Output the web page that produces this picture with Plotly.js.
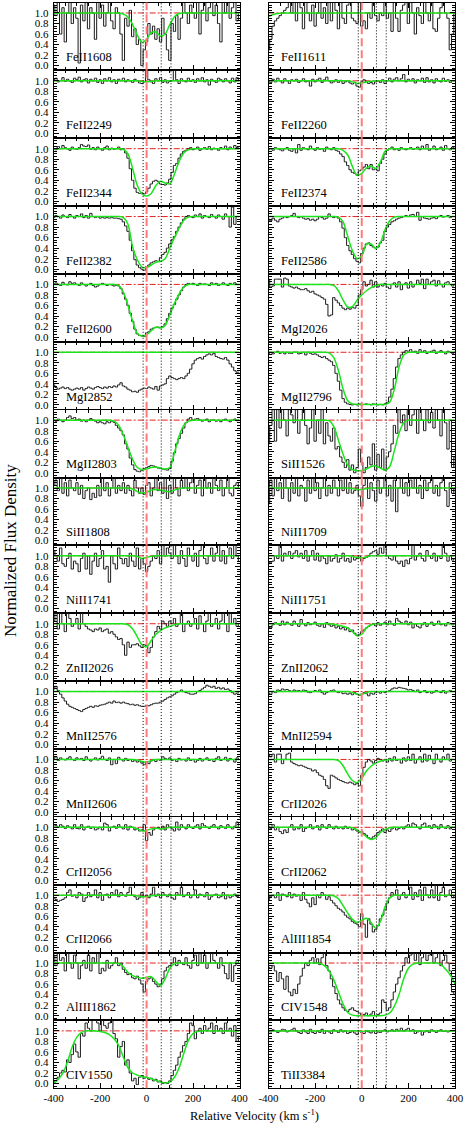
<!DOCTYPE html>
<html>
<head>
<meta charset="utf-8">
<script src="https://cdn.plot.ly/plotly-3.0.1.min.js"></script>
<style>html, body { margin: 0; padding: 0; background: #fff; }</style>
</head>
<body>
<div id="chart" style="width:474px;height:1128px"></div>
<script>
// velocity grid of the spectra (km/s) and of the fitted profiles
const velocity = [-400, -390, -380, -370, -360, -350, -340, -330, -320, -310,
  -300, -290, -280, -270, -260, -250, -240, -230, -220, -210,
  -200, -190, -180, -170, -160, -150, -140, -130, -120, -110,
  -100, -90, -80, -70, -60, -50, -40, -30, -20, -10,
  0, 10, 20, 30, 40, 50, 60, 70, 80, 90,
  100, 110, 120, 130, 140, 150, 160, 170, 180, 190,
  200, 210, 220, 230, 240, 250, 260, 270, 280, 290,
  300, 310, 320, 330, 340, 350, 360, 370, 380, 390,
  400];
const fitVelocity = [-400, -380, -360, -340, -320, -300, -280, -260, -240, -220,
  -200, -180, -160, -140, -120, -100, -80, -60, -40, -20,
  0, 20, 40, 60, 80, 100, 120, 140, 160, 180,
  200, 220, 240, 260, 280, 300, 320, 340, 360, 380, 400];
const componentVelocities = [-15, 63, 105];
const velocityTicks = [-400, -200, 0, 200, 400];
const velocityTickText = ['-400', '-200', '0', '200', '400'];

const leftLabels = ['FeII1608', 'FeII2249', 'FeII2344', 'FeII2382', 'FeII2600', 'MgI2852', 'MgII2803', 'SiII1808',
  'NiII1741', 'ZnII2026', 'MnII2576', 'MnII2606', 'CrII2056', 'CrII2066', 'AlIII1862', 'CIV1550'];
const rightLabels = ['FeII1611', 'FeII2260', 'FeII2374', 'FeII2586', 'MgI2026', 'MgII2796', 'SiII1526', 'NiII1709',
  'NiII1751', 'ZnII2062', 'MnII2594', 'CrII2026', 'CrII2062', 'AlIII1854', 'CIV1548', 'TiII3384'];

// ---- normalized flux, one value per velocity bin ----
const fluxFeII1608 = [1.15, 0.95, 1.2, 0.6, 1.1, 0.45, 1.0, 1.2, 0.8, 1.1,
  0.9, 0.05, 1.15, 0.85, 1.2, 0.7, 1.1, 1.0, 0.5, 1.2,
  0.9, 1.15, 0.75, 1.0, 1.2, 0.85, 0.7, 1.1, 1.0, 0.6,
  0.1, 0.9, 0.75, 1.05, 0.55, 0.7, 0.4, 0.5, 0.0, 0.3,
  0.45, 0.8, 0.6, 0.75, 0.5, 0.7, 0.45, 0.9, 0.6, 0.3,
  0.1, 0.8, 0.65, 0.95, 0.5, 0.9, 1.2, 1.0, 0.8, 1.15,
  1.0, 0.9, 1.2, 0.6, 1.05, 1.2, 0.85, 1.1, 1.2, 0.95,
  1.15, 0.8, 0.45, 1.2, 1.0, 1.2, 0.9, 1.1, 1.2, 0.85,
  1.0];
const fluxFeII1611 = [0.3, 0.5, 0.75, 0.85, 0.9, 0.95, 1.0, 1.05, 1.1, 1.2,
  1.0, 1.2, 0.85, 1.2, 1.1, 0.7, 1.2, 1.0, 0.85, 1.15,
  0.75, 1.0, 1.2, 0.9, 1.1, 0.8, 1.2, 0.85, 1.2, 1.05,
  0.7, 1.2, 0.9, 0.8, 1.15, 1.2, 0.9, 0.85, 0.8, 1.2,
  0.75, 0.85, 0.7, 1.0, 0.9, 1.2, 0.95, 0.85, 1.0, 0.95,
  1.2, 0.9, 1.0, 0.65, 1.2, 0.9, 0.65, 1.05, 1.15, 1.2,
  0.8, 1.2, 1.0, 0.6, 1.1, 0.95, 0.8, 1.2, 1.0, 0.85,
  1.2, 0.7, 0.65, 0.9, 1.1, 1.2, 1.0, 0.9, 0.3, 0.6,
  1.0];
const fluxFeII2249 = [1.02, 1.05, 0.98, 1.0, 1.06, 0.99, 1.03, 1.0, 0.97, 1.05,
  1.02, 1.07, 0.98, 1.02, 1.04, 0.96, 1.03, 1.0, 1.05, 0.97,
  1.02, 0.95, 1.04, 1.0, 1.06, 0.98, 1.02, 0.95, 1.03, 1.0,
  1.05, 0.98, 1.02, 1.0, 0.97, 1.03, 1.0, 0.96, 0.95, 0.98,
  1.2, 1.02, 0.98, 0.95, 1.04, 1.0, 1.06, 0.97, 1.02, 0.96,
  0.99, 1.0, 1.2, 1.02, 0.95, 1.04, 1.0, 0.98, 1.05, 0.99,
  1.02, 0.97, 1.04, 1.0, 1.06, 0.98, 1.02, 0.92, 1.03, 1.0,
  0.97, 1.05, 1.02, 0.98, 1.04, 1.0, 0.96, 1.05, 0.98, 1.06,
  1.0];
const fluxFeII2260 = [1.0, 0.97, 1.03, 0.98, 1.05, 1.0, 0.96, 1.04, 1.0, 0.95,
  1.02, 1.0, 1.03, 0.97, 1.0, 1.04, 0.98, 1.0, 0.9, 1.03,
  0.98, 1.02, 1.05, 0.97, 1.02, 1.07, 1.0, 0.96, 0.98, 1.02,
  0.97, 1.01, 0.95, 0.98, 1.0, 0.96, 0.94, 0.97, 0.9, 0.88,
  0.98, 1.02, 0.99, 0.95, 0.97, 0.94, 0.98, 1.0, 0.97, 1.02,
  0.95, 1.0, 1.05, 0.98, 1.03, 1.06, 1.0, 1.04, 1.12, 0.98,
  1.03, 1.0, 1.04, 0.96, 1.02, 1.0, 1.05, 0.97, 1.06, 0.98,
  1.02, 0.96, 1.04, 1.0, 0.98, 1.05, 0.99, 1.02, 0.97, 1.0,
  1.0];
const fluxFeII2344 = [1.0, 0.98, 1.04, 1.0, 1.06, 1.02, 1.0, 0.97, 1.03, 1.0,
  0.99, 1.02, 1.08, 1.05, 1.04, 1.07, 0.99, 1.02, 0.98, 1.03,
  1.0, 0.97, 1.02, 1.05, 0.98, 1.01, 0.99, 1.0, 1.03, 0.98,
  1.0, 0.92, 0.82, 0.62, 0.4, 0.25, 0.17, 0.15, 0.16, 0.14,
  0.18, 0.25, 0.33, 0.38, 0.4, 0.38, 0.33, 0.32, 0.31, 0.35,
  0.42, 0.55, 0.68, 0.72, 0.82, 0.9, 0.95, 0.97, 1.0, 1.02,
  0.98, 1.0, 1.03, 0.97, 1.0, 1.02, 0.99, 1.04, 0.98, 1.01,
  1.0, 0.97, 1.02, 1.0, 1.05, 0.98, 1.03, 1.0, 1.06, 1.02,
  1.0];
const fluxFeII2374 = [0.98, 1.0, 0.97, 1.02, 1.0, 0.98, 0.96, 1.0, 1.02, 0.97,
  0.95, 1.0, 0.92, 1.08, 0.97, 1.02, 1.0, 0.98, 1.05, 1.0,
  0.97, 1.02, 0.99, 1.0, 0.95, 1.03, 1.0, 0.98, 1.02, 0.97,
  0.95, 0.9, 0.85, 0.75, 0.68, 0.6, 0.55, 0.53, 0.5, 0.58,
  0.6, 0.65, 0.7, 0.62, 0.7, 0.6, 0.62, 0.58, 0.72, 0.8,
  0.9, 0.97, 1.0, 1.03, 0.98, 1.0, 0.97, 1.02, 1.0, 0.98,
  1.0, 1.02, 0.99, 1.0, 1.03, 0.98, 1.05, 1.0, 1.08, 0.97,
  1.0, 1.05, 0.98, 1.0, 1.03, 0.97, 1.06, 1.0, 0.98, 1.03,
  1.0];
const fluxFeII2382 = [0.98, 1.02, 1.0, 0.97, 1.03, 1.0, 0.98, 1.04, 1.0, 0.97,
  1.02, 1.0, 1.05, 0.98, 1.02, 0.97, 1.06, 1.0, 0.98, 1.0,
  0.97, 0.98, 0.97, 0.98, 0.97, 0.98, 0.97, 0.97, 0.96, 0.95,
  0.9, 0.82, 0.72, 0.55, 0.35, 0.18, 0.08, 0.03, 0.0, -0.02,
  0.05, 0.08, 0.12, 0.14, 0.16, 0.15, 0.22, 0.28, 0.32, 0.4,
  0.48, 0.56, 0.62, 0.72, 0.8, 0.88, 0.95, 1.0, 1.02, 1.0,
  0.98, 1.03, 1.0, 1.05, 0.97, 1.02, 1.0, 0.98, 1.04, 1.0,
  0.97, 1.03, 1.0, 0.95, 1.05, 1.0, 0.8, 1.18, 0.85, 1.0,
  1.0];
const fluxFeII2586 = [0.95, 0.92, 0.97, 0.93, 0.9, 0.95, 0.97, 1.0, 0.98, 1.0,
  1.02, 1.06, 1.0, 0.98, 1.0, 0.97, 0.95, 0.96, 0.93, 0.95,
  0.92, 0.95, 1.0, 0.98, 0.95, 0.97, 1.05, 1.0, 0.98, 1.0,
  0.97, 0.9, 0.78, 0.6, 0.45, 0.35, 0.28, 0.2, 0.15, 0.12,
  0.3, 0.4, 0.48, 0.5, 0.45, 0.42, 0.4, 0.42, 0.5, 0.55,
  0.72, 0.8, 0.85, 0.9, 0.92, 0.95, 0.97, 0.98, 1.0, 1.02,
  1.0, 1.03, 1.04, 1.0, 1.08, 0.93, 1.0, 0.97, 0.96, 0.95,
  0.97, 0.98, 0.96, 1.0, 1.02, 0.99, 1.0, 1.02, 0.98, 1.0,
  1.0];
const fluxFeII2600 = [1.0, 1.03, 1.0, 0.98, 1.04, 1.0, 0.99, 1.05, 1.02, 1.03,
  1.0, 0.98, 1.03, 1.0, 0.97, 1.0, 1.02, 0.98, 0.95, 0.97,
  1.0, 1.02, 1.0, 0.98, 1.0, 0.99, 0.97, 0.98, 0.97, 0.92,
  0.82, 0.72, 0.6, 0.45, 0.3, 0.15, 0.06, 0.03, 0.02, 0.01,
  0.08, 0.1, 0.15, 0.17, 0.18, 0.19, 0.18, 0.2, 0.25, 0.35,
  0.45, 0.55, 0.62, 0.72, 0.8, 0.88, 0.95, 1.0, 1.02, 1.0,
  1.02, 1.0, 0.98, 1.02, 1.0, 1.01, 1.0, 0.98, 1.03, 1.0,
  1.02, 0.98, 1.0, 1.03, 1.0, 0.98, 1.02, 1.0, 1.03, 1.0,
  1.0];
const fluxMgI2026 = [1.1, 0.95, 0.97, 1.1, 1.1, 1.1, 0.95, 1.12, 1.1, 0.97,
  0.95, 0.93, 0.95, 0.92, 0.9, 0.9, 0.92, 0.88, 0.85, 0.87,
  0.82, 0.8, 0.78, 0.75, 0.72, 0.62, 0.4, 0.42, 0.75, 0.7,
  0.65, 0.6, 0.55, 0.52, 0.55, 0.53, 0.56, 0.55, 0.6, 0.8,
  0.9, 1.05, 0.97, 1.0, 1.08, 0.95, 1.05, 0.95, 1.0, 0.97,
  1.02, 0.95, 0.92, 1.0, 1.03, 0.95, 1.05, 0.9, 1.0, 1.03,
  0.93, 1.05, 0.95, 1.0, 1.08, 1.02, 1.1, 0.92, 1.1, 1.0,
  1.05, 1.08, 0.97, 1.07, 1.0, 0.95, 1.03, 1.05, 1.0, 0.97,
  1.0];
const fluxMgI2852 = [0.38, 0.33, 0.3, 0.32, 0.34, 0.31, 0.33, 0.3, 0.28, 0.3,
  0.32, 0.3, 0.33, 0.28, 0.31, 0.34, 0.32, 0.3, 0.33, 0.35,
  0.33, 0.31, 0.34, 0.32, 0.35, 0.33, 0.36, 0.34, 0.38, 0.42,
  0.36, 0.34, 0.3, 0.28, 0.25, 0.26, 0.24, 0.28, 0.3, 0.32,
  0.31, 0.34, 0.32, 0.3, 0.35, 0.28, 0.36, 0.38, 0.4, 0.5,
  0.55, 0.52, 0.5, 0.48, 0.5, 0.52, 0.5, 0.55, 0.6, 0.68,
  0.78, 0.85, 0.88, 0.9, 0.87, 0.92, 0.95, 0.97, 0.95, 0.98,
  0.92, 0.9, 0.88, 0.87, 0.9, 0.85, 0.78, 0.72, 0.65, 0.62,
  0.62];
const fluxMgII2796 = [0.98, 1.0, 0.97, 1.0, 1.02, 0.98, 1.0, 0.97, 1.0, 0.98,
  0.98, 1.0, 1.0, 0.97, 0.98, 1.0, 0.95, 1.0, 0.98, 0.96,
  0.97, 0.95, 0.92, 0.9, 0.92, 0.88, 0.85, 0.82, 0.75, 0.6,
  0.45, 0.28, 0.12, 0.05, 0.02, 0.01, 0.0, 0.01, 0.0, 0.02,
  0.0, 0.01, 0.02, 0.01, 0.0, 0.02, 0.01, 0.0, 0.01, 0.0,
  0.02, 0.05, 0.15, 0.3, 0.5, 0.72, 0.88, 0.95, 1.0, 1.03,
  1.02, 1.05, 1.0, 1.02, 0.98, 1.05, 1.0, 1.03, 0.98, 1.0,
  1.02, 1.04, 0.98, 1.0, 1.03, 1.0, 0.97, 1.02, 1.0, 0.98,
  1.0];
const fluxMgII2803 = [1.0, 0.98, 1.02, 1.0, 0.97, 1.0, 1.05, 1.08, 1.03, 1.05,
  1.0, 1.02, 0.98, 1.0, 0.97, 1.0, 1.03, 1.0, 0.98, 0.95,
  0.97, 0.95, 0.93, 0.97, 0.95, 0.98, 0.96, 0.9, 0.85, 0.8,
  0.72, 0.55, 0.45, 0.28, 0.15, 0.06, 0.03, 0.02, 0.05, 0.08,
  0.1, 0.12, 0.14, 0.13, 0.11, 0.09, 0.08, 0.07, 0.06, 0.05,
  0.08, 0.22, 0.38, 0.55, 0.65, 0.75, 0.85, 0.95, 1.02, 1.05,
  1.0, 1.02, 1.03, 1.0, 0.98, 1.0, 1.02, 0.97, 1.0, 1.0,
  0.98, 1.0, 0.97, 1.0, 1.02, 0.99, 0.97, 1.0, 1.02, 0.99,
  1.0];
const fluxSiII1526 = [0.55, 0.9, 1.2, 0.6, 1.2, 0.85, 1.2, 1.0, 0.7, 1.2,
  1.1, 0.95, 1.2, 0.75, 1.0, 1.2, 0.9, 0.55, 0.85, 1.2,
  0.6, 1.0, 0.75, 1.2, 0.55, 0.95, 0.7, 0.6, 0.85, 0.45,
  0.5, 0.3, 0.2, 0.1, 0.25, 0.05, 0.15, 0.0, 0.1, 0.45,
  0.2, 0.0, 0.1, 0.3, 0.15, 0.55, 0.05, 0.35, 0.1, 0.45,
  0.05, 0.3, 0.4, 0.55, 0.9, 0.75, 1.2, 0.95, 1.1, 0.8,
  1.2, 0.9, 1.1, 1.2, 0.75, 1.2, 1.0, 0.8, 1.2, 0.95,
  1.15, 0.85, 1.2, 1.0, 0.7, 1.2, 0.95, 0.45, 1.0, 0.1,
  0.3];
const fluxSiII1808 = [1.05, 1.15, 0.95, 1.2, 0.9, 1.1, 0.85, 1.15, 1.0, 0.95,
  1.1, 0.88, 1.05, 0.8, 0.95, 1.0, 0.78, 0.9, 0.82, 1.05,
  0.85, 1.2, 0.95, 1.1, 0.85, 1.0, 1.2, 0.9, 1.05, 0.95,
  1.1, 0.9, 1.05, 0.95, 0.85, 1.15, 1.0, 0.9, 1.0, 0.88,
  1.05, 1.1, 0.85, 1.0, 1.2, 0.95, 1.1, 0.9, 1.2, 0.8,
  1.05, 0.9, 1.2, 1.0, 0.85, 1.15, 1.0, 1.2, 0.95, 1.1,
  1.2, 0.9, 1.05, 1.15, 0.85, 1.2, 1.0, 1.1, 0.9, 1.2,
  1.05, 0.95, 1.15, 0.85, 1.0, 1.2, 0.9, 0.85, 1.05, 1.1,
  1.0];
const fluxNiII1709 = [0.7, 1.15, 0.85, 1.2, 0.95, 1.1, 0.8, 1.2, 1.0, 0.75,
  1.1, 0.9, 1.2, 0.85, 1.05, 1.0, 0.75, 1.15, 0.9, 1.2,
  0.95, 1.1, 0.8, 1.0, 1.2, 0.85, 1.05, 0.9, 1.15, 1.0,
  0.85, 1.15, 0.95, 1.2, 0.9, 1.1, 0.9, 0.95, 1.05, 0.85,
  0.65, 1.05, 1.2, 0.8, 1.1, 0.95, 0.75, 1.15, 0.9, 1.0,
  1.2, 0.85, 1.05, 0.75, 1.15, 0.55, 1.0, 1.2, 0.9, 1.1,
  0.85, 1.15, 1.0, 1.2, 0.9, 1.05, 0.8, 1.15, 0.95, 1.1,
  1.2, 0.9, 1.05, 0.85, 1.1, 1.2, 0.95, 0.65, 1.1, 0.9,
  1.0];
const fluxNiII1741 = [1.1, 1.0, 0.9, 1.15, 0.85, 0.8, 0.95, 1.05, 0.75, 0.9,
  0.85, 0.7, 0.95, 1.05, 0.75, 1.0, 0.65, 0.9, 1.05, 0.8,
  0.95, 1.1, 0.75, 0.8, 0.5, 1.0, 0.85, 0.75, 1.15, 0.95,
  0.85, 0.95, 0.8, 1.05, 0.9, 0.8, 1.15, 0.75, 0.95, 0.85,
  0.7, 0.8, 0.9, 1.0, 0.95, 1.1, 0.85, 1.2, 1.0, 1.15,
  1.05, 0.95, 1.2, 1.0, 0.85, 1.1, 0.95, 0.8, 1.15, 1.0,
  0.9, 1.05, 0.8, 1.1, 1.2, 0.95, 0.85, 1.0, 1.15, 0.9,
  1.05, 1.2, 0.9, 1.1, 0.85, 1.0, 1.15, 0.95, 1.2, 1.0,
  0.9];
const fluxNiII1751 = [0.85, 0.88, 0.9, 1.0, 0.95, 1.2, 0.9, 1.05, 1.0, 1.08,
  0.95, 1.05, 1.1, 0.98, 1.05, 0.95, 1.1, 0.9, 1.0, 1.1,
  0.92, 1.05, 0.9, 1.0, 0.95, 0.85, 1.0, 0.9, 0.95, 1.02,
  0.88, 0.95, 1.05, 0.9, 0.95, 0.88, 1.0, 0.92, 0.95, 1.0,
  0.9, 0.95, 0.97, 1.0, 1.05, 1.08, 1.1, 1.03, 1.15, 1.05,
  1.2, 1.0, 0.95, 0.92, 1.0, 0.9, 0.85, 0.9, 0.8, 0.92,
  0.85, 0.95, 1.2, 0.92, 1.0, 1.05, 0.95, 0.9, 1.1, 1.0,
  0.95, 1.05, 0.9, 1.0, 0.95, 1.2, 1.05, 0.9, 1.0, 0.92,
  0.95];
const fluxZnII2026 = [1.05, 1.2, 0.9, 1.2, 1.0, 0.85, 1.2, 1.1, 0.95, 1.0,
  1.1, 0.9, 1.2, 1.0, 0.95, 0.9, 0.88, 0.85, 0.9, 0.88,
  0.92, 0.85, 0.88, 0.9, 0.82, 0.85, 0.8, 0.75, 0.7, 0.72,
  0.6, 0.4, 0.65, 0.55, 0.6, 0.6, 0.62, 0.58, 0.55, 0.6,
  0.58, 0.45, 0.55, 0.75, 0.85, 0.95, 0.9, 1.05, 1.0, 0.95,
  1.05, 1.0, 1.1, 0.95, 1.0, 1.2, 0.85, 1.0, 1.05, 0.95,
  1.0, 1.1, 0.9, 1.15, 1.0, 0.85, 1.05, 1.2, 0.95, 1.0,
  1.1, 0.9, 1.05, 1.2, 1.0, 0.85, 1.2, 1.0, 1.1, 0.95,
  1.0];
const fluxZnII2062 = [0.95, 0.92, 0.98, 1.02, 1.0, 0.97, 1.05, 0.98, 1.03, 1.0,
  0.97, 1.05, 1.0, 0.95, 1.08, 1.0, 0.96, 1.02, 0.98, 1.0,
  1.03, 0.97, 0.95, 1.0, 0.93, 1.02, 0.98, 0.95, 0.97, 0.92,
  0.95, 0.9, 0.93, 0.88, 0.92, 0.85, 0.88, 0.82, 0.78, 0.8,
  0.85, 0.88, 0.92, 0.95, 0.98, 1.0, 0.96, 1.02, 0.97, 1.0,
  1.03, 0.98, 1.05, 1.0, 0.97, 1.1, 1.05, 1.02, 1.0, 1.05,
  0.98, 1.03, 0.92, 1.0, 0.95, 0.92, 0.98, 1.02, 0.95, 1.0,
  1.03, 0.97, 1.0, 1.05, 0.98, 1.0, 0.96, 1.02, 1.0, 0.98,
  1.0];
const fluxMnII2576 = [1.05, 1.1, 1.02, 0.95, 0.88, 0.82, 0.76, 0.72, 0.7, 0.68,
  0.66, 0.64, 0.62, 0.66, 0.68, 0.7, 0.72, 0.7, 0.73, 0.72,
  0.74, 0.75, 0.76, 0.78, 0.8, 0.78, 0.82, 0.79, 0.8, 0.78,
  0.8, 0.78, 0.77, 0.75, 0.76, 0.74, 0.75, 0.73, 0.72, 0.72,
  0.74, 0.73, 0.75, 0.77, 0.78, 0.78, 0.8, 0.82, 0.85, 0.88,
  0.9, 0.92, 0.95, 0.98, 1.0, 1.03, 1.0, 0.98, 0.97, 0.95,
  0.95, 0.96, 1.0, 1.02, 1.05, 1.08, 1.12, 1.1, 1.08, 1.1,
  1.06, 1.08, 1.05, 1.07, 1.04, 1.05, 1.02, 0.98, 0.95, 0.97,
  1.0];
const fluxMnII2594 = [0.97, 0.95, 1.0, 0.98, 1.03, 1.02, 1.05, 1.03, 1.04, 1.02,
  1.0, 1.03, 1.01, 1.02, 1.0, 1.03, 1.02, 0.99, 0.98, 1.0,
  1.02, 1.0, 1.03, 0.98, 0.95, 0.98, 1.0, 1.02, 1.03, 1.0,
  0.98, 1.0, 0.96, 0.97, 0.95, 0.97, 0.94, 0.98, 0.95, 0.93,
  0.95, 0.98, 0.96, 0.92, 0.97, 0.95, 0.98, 1.0, 0.97, 1.0,
  0.98, 1.0, 1.02, 1.05, 1.07, 1.06, 1.08, 1.07, 1.06, 1.05,
  1.03, 1.04, 1.02, 1.0, 1.03, 0.98, 1.0, 1.02, 0.98, 1.0,
  0.97, 0.99, 1.02, 1.0, 0.98, 1.02, 0.97, 1.0, 1.02, 1.0,
  1.0];
const fluxMnII2606 = [1.02, 1.05, 0.98, 1.03, 1.0, 0.99, 1.02, 1.05, 1.0, 0.98,
  1.03, 1.0, 1.02, 0.98, 1.05, 1.0, 0.97, 1.0, 1.03, 0.99,
  1.02, 1.06, 1.0, 0.98, 1.03, 0.9, 1.0, 0.92, 1.04, 1.0,
  0.97, 1.02, 0.98, 1.0, 0.96, 0.99, 0.95, 0.97, 0.93, 0.9,
  0.95, 0.92, 0.97, 0.99, 0.96, 1.0, 0.98, 1.05, 1.02, 1.0,
  1.03, 0.98, 1.0, 0.96, 1.02, 0.99, 1.0, 0.97, 1.03, 0.98,
  1.0, 0.95, 0.98, 1.02, 0.97, 1.0, 1.03, 0.98, 1.0, 0.96,
  1.02, 1.05, 0.98, 1.0, 1.04, 0.97, 1.02, 1.0, 0.95, 1.03,
  1.0];
const fluxCrII2026 = [1.1, 1.05, 1.1, 0.95, 1.1, 1.1, 0.92, 1.0, 1.1, 1.12,
  0.95, 0.92, 0.9, 0.88, 0.89, 0.87, 0.85, 0.83, 0.82, 0.78,
  0.8, 0.75, 0.7, 0.68, 0.62, 0.5, 0.45, 0.7, 0.68, 0.65,
  0.62, 0.6, 0.58, 0.56, 0.55, 0.57, 0.55, 0.52, 0.55, 0.5,
  0.7, 0.85, 0.95, 1.0, 0.97, 0.93, 0.98, 1.02, 1.0, 0.97,
  1.0, 0.95, 1.02, 0.97, 1.05, 0.98, 1.0, 0.93, 1.03, 0.97,
  1.05, 0.98, 1.1, 0.93, 1.0, 1.05, 0.95, 1.1, 0.97, 1.08,
  1.0, 0.92, 1.1, 1.0, 0.95, 1.05, 1.0, 1.1, 0.97, 1.0,
  1.0];
const fluxCrII2056 = [1.05, 1.03, 1.0, 1.05, 1.02, 0.98, 1.03, 1.0, 0.97, 1.05,
  0.98, 0.97, 1.05, 0.95, 1.0, 1.02, 0.98, 1.0, 0.95, 0.97,
  1.0, 0.95, 1.08, 1.05, 0.93, 1.0, 1.02, 0.98, 1.05, 1.0,
  0.97, 1.05, 0.95, 1.02, 1.0, 0.95, 0.98, 0.93, 0.95, 1.05,
  0.75, 0.9, 0.85, 0.95, 0.98, 1.0, 0.97, 1.02, 0.95, 1.05,
  1.0, 0.97, 0.93, 1.1, 0.95, 1.05, 1.0, 0.97, 1.05, 1.0,
  0.98, 1.02, 1.05, 0.97, 1.07, 1.03, 1.0, 0.98, 1.02, 1.05,
  1.0, 0.97, 1.03, 1.0, 0.98, 1.05, 1.0, 0.97, 1.02, 1.1,
  1.0];
const fluxCrII2062 = [1.02, 0.98, 1.05, 0.95, 1.0, 0.92, 0.88, 0.95, 0.9, 1.0,
  1.05, 0.95, 1.0, 0.97, 1.05, 0.92, 0.98, 1.0, 1.05, 0.97,
  1.0, 1.03, 0.95, 1.05, 1.0, 0.98, 1.05, 1.0, 0.97, 1.02,
  0.98, 1.0, 0.97, 1.02, 0.98, 1.0, 0.95, 0.97, 0.93, 0.9,
  0.92, 0.88, 0.85, 0.8, 0.78, 0.82, 0.85, 0.9, 0.93, 0.97,
  0.9, 0.95, 0.92, 0.97, 1.0, 0.95, 0.98, 1.0, 0.97, 1.02,
  1.05, 1.0, 1.08, 1.05, 1.0, 0.97, 1.05, 1.08, 1.0, 1.03,
  0.98, 1.05, 1.02, 0.97, 1.05, 1.0, 0.98, 1.03, 0.97, 1.0,
  1.0];
const fluxCrII2066 = [0.95, 0.92, 0.88, 0.9, 0.92, 0.95, 1.05, 1.1, 0.98, 1.0,
  0.95, 1.05, 1.02, 0.88, 0.95, 1.05, 0.97, 1.0, 1.1, 0.95,
  1.05, 0.9, 1.0, 1.02, 0.95, 1.05, 1.0, 1.1, 0.97, 1.05,
  1.0, 0.98, 1.05, 1.15, 1.0, 0.97, 0.92, 0.95, 1.05, 0.98,
  1.0, 0.95, 1.02, 1.15, 0.98, 1.02, 0.95, 1.05, 1.0, 0.97,
  1.02, 0.95, 0.92, 1.05, 1.0, 1.15, 0.97, 1.0, 1.05, 0.95,
  1.0, 1.1, 0.95, 1.02, 1.0, 0.97, 1.05, 0.92, 0.97, 1.0,
  1.02, 0.95, 0.97, 1.05, 0.93, 1.0, 0.95, 0.98, 1.02, 0.97,
  1.0];
const fluxAlIII1854 = [0.92, 0.98, 1.0, 0.95, 1.05, 0.9, 1.02, 1.0, 0.97, 1.05,
  0.95, 1.02, 0.98, 1.0, 0.9, 1.05, 0.92, 0.85, 0.78, 0.95,
  0.82, 1.0, 0.95, 1.05, 1.0, 0.92, 0.97, 0.9, 0.85, 0.8,
  0.75, 0.72, 0.68, 0.62, 0.58, 0.55, 0.5, 0.47, 0.45, 0.4,
  0.65, 0.45, 0.2, 0.55, 0.45, 0.3, 0.35, 0.42, 0.55, 0.62,
  0.72, 0.85, 0.95, 1.05, 1.0, 1.1, 0.92, 1.0, 1.05, 0.95,
  1.0, 1.15, 0.92, 1.05, 0.97, 1.1, 0.9, 1.15, 1.0, 0.95,
  1.1, 0.95, 1.2, 0.9, 1.05, 1.15, 0.97, 1.0, 1.1, 0.95,
  1.0];
const fluxAlIII1862 = [1.15, 0.95, 1.2, 1.05, 1.1, 0.85, 1.2, 1.0, 0.9, 1.15,
  1.0, 0.7, 0.95, 1.05, 0.9, 1.15, 0.85, 1.1, 1.0, 1.2,
  0.8, 0.9, 0.85, 1.05, 0.9, 0.95, 1.0, 1.1, 0.95, 1.0,
  0.88, 0.82, 0.78, 0.8, 0.72, 0.7, 0.75, 0.68, 0.6, 0.45,
  0.65, 0.7, 0.72, 0.65, 0.6, 0.55, 0.6, 0.7, 0.85, 0.92,
  0.95, 1.0, 1.1, 0.95, 1.05, 1.0, 0.97, 1.1, 0.95, 0.9,
  1.05, 1.15, 0.95, 1.2, 1.0, 1.15, 0.9, 1.0, 1.2, 1.05,
  1.0, 0.9, 1.1, 0.95, 0.8, 0.7, 1.0, 0.65, 0.95, 1.05,
  1.0];
const fluxCIV1548 = [0.92, 0.9, 0.95, 0.85, 0.65, 0.82, 0.7, 0.5, 0.75, 0.45,
  0.38, 0.5, 0.42, 0.6, 0.75, 0.9, 1.0, 0.95, 1.05, 1.1,
  1.0, 1.08, 0.97, 1.1, 1.2, 0.95, 0.85, 0.7, 0.55, 0.42,
  0.3, 0.22, 0.15, 0.1, 0.08, 0.12, 0.15, 0.1, 0.08, 0.05,
  0.0, 0.02, 0.05, 0.0, 0.03, 0.08, 0.0, 0.02, 0.05, 0.3,
  0.25, 0.1, 0.15, 0.3, 0.45, 0.6, 0.72, 0.85, 0.95, 1.1,
  1.0, 1.15, 1.2, 1.05, 1.2, 0.97, 1.1, 1.2, 1.05, 1.15,
  1.2, 1.0, 1.1, 1.2, 0.95, 1.05, 1.15, 1.0, 0.85, 0.45,
  0.4];
const fluxCIV1550 = [0.0, 0.05, 0.12, 0.2, 0.25, 0.22, 0.45, 0.4, 0.55, 0.75,
  0.6, 0.5, 0.95, 0.9, 1.15, 1.05, 1.0, 1.2, 1.2, 1.15,
  1.0, 1.2, 1.1, 1.05, 1.15, 1.2, 0.95, 0.85, 0.5, 0.7,
  0.8, 0.35, 0.45, 0.2, 0.05, 0.1, -0.02, 0.12, 0.15, 0.1,
  0.12, 0.08, 0.1, 0.05, 0.08, 0.03, 0.05, 0.0, 0.02, 0.0,
  0.05, 0.15, 0.25, 0.35, 0.5, 0.6, 0.72, 0.8, 0.95, 1.15,
  1.1, 0.85, 1.0, 1.05, 0.95, 1.1, 1.0, 1.05, 1.15, 0.95,
  1.1, 1.0, 1.05, 0.95, 1.15, 1.0, 1.05, 0.9, 1.1, 0.8,
  0.9];
const fluxTiII3384 = [1.0, 0.98, 1.02, 1.0, 0.97, 1.0, 1.03, 1.02, 0.98, 1.0,
  1.02, 1.05, 1.0, 0.97, 0.95, 1.02, 0.98, 0.95, 1.03, 0.97,
  0.95, 1.0, 0.97, 1.03, 0.95, 1.0, 0.98, 0.95, 1.02, 1.0,
  0.97, 1.02, 0.98, 1.0, 0.95, 0.97, 1.0, 0.96, 0.93, 1.0,
  0.97, 0.95, 1.0, 0.98, 0.96, 1.0, 0.95, 0.98, 0.97, 1.0,
  1.02, 0.98, 1.0, 1.02, 0.99, 1.03, 1.0, 1.05, 1.0, 1.02,
  1.05, 1.0, 1.02, 0.95, 0.98, 1.0, 0.92, 0.98, 1.0, 0.97,
  1.02, 1.0, 0.97, 1.0, 1.02, 0.99, 1.0, 0.98, 1.0, 1.0,
  1.0];

// ---- fitted profiles, one value per fitVelocity point ----
const fitFeII1608 = [1, 1, 1, 1, 1, 1, 1, 1, 1, 1,
  1, 1, 1, 1, 1, 0.98, 0.92, 0.78, 0.58, 0.44,
  0.5, 0.63, 0.64, 0.56, 0.6, 0.78, 0.93, 0.99, 1, 1,
  1, 1, 1, 1, 1, 1, 1, 1, 1, 1, 1];
const fitFeII1611 = [0.93, 0.97, 0.99, 1, 1, 1, 1, 1, 1, 1,
  1, 1, 1, 1, 1, 1, 1, 1, 1, 1,
  1, 1, 1, 1, 1, 1, 1, 1, 1, 1,
  1, 1, 1, 1, 1, 1, 1, 1, 1, 1, 1];
const fitFeII2249 = [1, 1, 1, 1, 1, 1, 1, 1, 1, 1,
  1, 1, 1, 1, 1, 1, 1, 1, 1, 0.99,
  0.98, 0.99, 1, 1, 1, 1, 1, 1, 1, 1,
  1, 1, 1, 1, 1, 1, 1, 1, 1, 1, 1];
const fitFeII2260 = [1, 1, 1, 1, 1, 1, 1, 1, 1, 1,
  1, 1, 1, 1, 1, 1, 1, 1, 0.98, 0.95,
  0.96, 0.98, 0.99, 1, 1, 1, 1, 1, 1, 1,
  1, 1, 1, 1, 1, 1, 1, 1, 1, 1, 1];
const fitFeII2344 = [1, 1, 1, 1, 1, 1, 1, 1, 1, 1,
  1, 1, 1, 1, 1, 0.99, 0.9, 0.62, 0.3, 0.14,
  0.1, 0.15, 0.3, 0.38, 0.35, 0.33, 0.52, 0.76, 0.92, 0.98,
  1, 1, 1, 1, 1, 1, 1, 1, 1, 1, 1];
const fitFeII2374 = [1, 1, 1, 1, 1, 1, 1, 1, 1, 1,
  1, 1, 1, 1, 1, 1, 0.97, 0.88, 0.66, 0.49,
  0.53, 0.63, 0.67, 0.62, 0.75, 0.95, 1, 1, 1, 1,
  1, 1, 1, 1, 1, 1, 1, 1, 1, 1, 1];
const fitFeII2382 = [1, 1, 1, 1, 1, 1, 1, 1, 1, 1,
  1, 1, 1, 1, 1, 0.98, 0.85, 0.42, 0.18, 0.04,
  0.03, 0.08, 0.13, 0.15, 0.2, 0.4, 0.6, 0.78, 0.93, 0.99,
  1, 1, 1, 1, 1, 1, 1, 1, 1, 1, 1];
const fitFeII2586 = [1, 1, 1, 1, 1, 1, 1, 1, 1, 1,
  1, 1, 1, 1, 1, 0.99, 0.9, 0.62, 0.35, 0.2,
  0.25, 0.47, 0.48, 0.39, 0.5, 0.75, 0.92, 0.99, 1, 1,
  1, 1, 1, 1, 1, 1, 1, 1, 1, 1, 1];
const fitFeII2600 = [1, 1, 1, 1, 1, 1, 1, 1, 1, 1,
  1, 1, 1, 1, 0.98, 0.85, 0.6, 0.3, 0.07, 0.02,
  0.04, 0.12, 0.19, 0.17, 0.22, 0.42, 0.64, 0.82, 0.95, 1,
  1, 1, 1, 1, 1, 1, 1, 1, 1, 1, 1];
const fitMgI2026 = [1, 1, 1, 1, 1, 1, 1, 1, 1, 1,
  1, 1, 1, 1, 0.98, 0.88, 0.7, 0.57, 0.58, 0.7,
  0.8, 0.88, 0.94, 0.98, 1, 1, 1, 1, 1, 1,
  1, 1, 1, 1, 1, 1, 1, 1, 1, 1, 1];
const fitMgI2852 = [1, 1, 1, 1, 1, 1, 1, 1, 1, 1,
  1, 1, 1, 1, 1, 1, 1, 1, 1, 1,
  1, 1, 1, 1, 1, 1, 1, 1, 1, 1,
  1, 1, 1, 1, 1, 1, 1, 1, 1, 1, 1];
const fitMgII2796 = [1, 1, 1, 1, 1, 1, 1, 1, 1, 1,
  1, 1, 1, 0.99, 0.9, 0.65, 0.3, 0.08, 0.02, 0.01,
  0.01, 0.01, 0.01, 0.01, 0.01, 0.01, 0.05, 0.3, 0.72, 0.95,
  1, 1, 1, 1, 1, 1, 1, 1, 1, 1, 1];
const fitMgII2803 = [1, 1, 1, 1, 1, 1, 1, 1, 1, 1,
  1, 1, 1, 0.98, 0.9, 0.72, 0.48, 0.25, 0.1, 0.06,
  0.07, 0.1, 0.11, 0.09, 0.07, 0.1, 0.38, 0.7, 0.9, 0.98,
  1, 1, 1, 1, 1, 1, 1, 1, 1, 1, 1];
const fitSiII1526 = [1, 1, 1, 1, 1, 1, 1, 1, 1, 1,
  1, 1, 1, 0.99, 0.88, 0.62, 0.35, 0.14, 0.06, 0.04,
  0.04, 0.07, 0.12, 0.13, 0.09, 0.05, 0.12, 0.42, 0.75, 0.95,
  1, 1, 1, 1, 1, 1, 1, 1, 1, 1, 1];
const fitSiII1808 = [1, 1, 1, 1, 1, 1, 1, 1, 1, 1,
  1, 1, 1, 1, 1, 1, 1, 0.98, 0.93, 0.9,
  0.92, 0.96, 0.97, 0.96, 0.94, 0.93, 0.96, 0.99, 1, 1,
  1, 1, 1, 1, 1, 1, 1, 1, 1, 1, 1];
const fitNiII1709 = [1, 1, 1, 1, 1, 1, 1, 1, 1, 1,
  1, 1, 1, 1, 1, 1, 1, 1, 0.99, 0.97,
  0.97, 0.99, 1, 1, 1, 1, 1, 1, 1, 1,
  1, 1, 1, 1, 1, 1, 1, 1, 1, 1, 1];
const fitNiII1741 = [1, 1, 1, 1, 1, 1, 1, 1, 1, 1,
  1, 1, 1, 1, 1, 1, 1, 1, 0.99, 0.95,
  0.97, 0.99, 1, 1, 1, 1, 1, 1, 1, 1,
  1, 1, 1, 1, 1, 1, 1, 1, 1, 1, 1];
const fitNiII1751 = [1, 1, 1, 1, 1, 1, 1, 1, 1, 1,
  1, 1, 1, 1, 1, 1, 1, 1, 0.99, 0.97,
  0.96, 0.98, 1, 1, 1, 1, 1, 1, 1, 1,
  1, 1, 1, 1, 1, 1, 1, 1, 1, 1, 1];
const fitZnII2026 = [1, 1, 1, 1, 1, 1, 1, 1, 1, 1,
  1, 1, 1, 1, 1, 1, 0.98, 0.9, 0.75, 0.6,
  0.56, 0.68, 0.8, 0.87, 0.92, 0.95, 0.98, 1, 1, 1,
  1, 1, 1, 1, 1, 1, 1, 1, 1, 1, 1];
const fitZnII2062 = [1, 1, 1, 1, 1, 1, 1, 1, 1, 1,
  1, 1, 1, 1, 0.99, 0.97, 0.95, 0.92, 0.85, 0.77,
  0.8, 0.92, 0.98, 1, 1, 1, 1, 1, 1, 1,
  1, 1, 1, 1, 1, 1, 1, 1, 1, 1, 1];
const fitMnII2576 = [1, 1, 1, 1, 1, 1, 1, 1, 1, 1,
  1, 1, 1, 1, 1, 1, 1, 1, 1, 1,
  1, 1, 1, 1, 1, 1, 1, 1, 1, 1,
  1, 1, 1, 1, 1, 1, 1, 1, 1, 1, 1];
const fitMnII2594 = [1, 1, 1, 1, 1, 1, 1, 1, 1, 1,
  1, 1, 1, 1, 1, 1, 1, 1, 0.98, 0.95,
  0.95, 0.98, 1, 1, 1, 1, 1, 1, 1, 1,
  1, 1, 1, 1, 1, 1, 1, 1, 1, 1, 1];
const fitMnII2606 = [1, 1, 1, 1, 1, 1, 1, 1, 1, 1,
  1, 1, 1, 1, 1, 1, 1, 1, 0.99, 0.96,
  0.95, 0.98, 1, 1, 1, 1, 1, 1, 1, 1,
  1, 1, 1, 1, 1, 1, 1, 1, 1, 1, 1];
const fitCrII2026 = [1, 1, 1, 1, 1, 1, 1, 1, 1, 1,
  1, 1, 1, 1, 1, 0.98, 0.88, 0.72, 0.6, 0.56,
  0.64, 0.78, 0.87, 0.93, 0.97, 0.99, 1, 1, 1, 1,
  1, 1, 1, 1, 1, 1, 1, 1, 1, 1, 1];
const fitCrII2056 = [1, 1, 1, 1, 1, 1, 1, 1, 1, 1,
  1, 1, 1, 1, 1, 1, 1, 1, 0.97, 0.93,
  0.94, 0.97, 0.98, 0.97, 0.98, 1, 1, 1, 1, 1,
  1, 1, 1, 1, 1, 1, 1, 1, 1, 1, 1];
const fitCrII2062 = [1, 1, 1, 1, 1, 1, 1, 1, 1, 1,
  1, 1, 1, 1, 1, 1, 1, 1, 0.99, 0.95,
  0.89, 0.82, 0.77, 0.8, 0.9, 0.96, 0.99, 1, 1, 1,
  1, 1, 1, 1, 1, 1, 1, 1, 1, 1, 1];
const fitCrII2066 = [1, 1, 1, 1, 1, 1, 1, 1, 1, 1,
  1, 1, 1, 1, 1, 1, 1, 1, 0.99, 0.97,
  0.97, 0.99, 1, 1, 1, 1, 1, 1, 1, 1,
  1, 1, 1, 1, 1, 1, 1, 1, 1, 1, 1];
const fitAlIII1854 = [1, 1, 1, 1, 1, 1, 1, 1, 1, 1,
  1, 1, 1, 1, 0.99, 0.93, 0.8, 0.66, 0.54, 0.48,
  0.52, 0.56, 0.48, 0.37, 0.5, 0.78, 0.95, 1, 1, 1,
  1, 1, 1, 1, 1, 1, 1, 1, 1, 1, 1];
const fitAlIII1862 = [1, 1, 1, 1, 1, 1, 1, 1, 1, 1,
  1, 1, 1, 1, 0.99, 0.93, 0.82, 0.76, 0.73, 0.71,
  0.73, 0.74, 0.65, 0.57, 0.7, 0.9, 0.99, 1, 1, 1,
  1, 1, 1, 1, 1, 1, 1, 1, 1, 1, 1];
const fitCIV1548 = [1, 1, 1, 1, 1, 1, 1, 1, 1, 1,
  1, 0.99, 0.95, 0.85, 0.68, 0.45, 0.22, 0.06, 0.01, 0,
  0, 0, 0, 0, 0, 0.01, 0.05, 0.18, 0.4, 0.7,
  0.9, 0.98, 1, 1, 1, 1, 1, 0.97, 0.88, 0.77, 0.6];
const fitCIV1550 = [0, 0.08, 0.2, 0.42, 0.7, 0.88, 0.97, 1, 1, 1,
  0.99, 0.97, 0.93, 0.85, 0.72, 0.5, 0.3, 0.2, 0.16, 0.13,
  0.12, 0.09, 0.06, 0.03, 0.01, 0.03, 0.12, 0.3, 0.57, 0.82,
  0.95, 0.99, 1, 1, 1, 1, 1, 1, 1, 1, 1];
const fitTiII3384 = [1, 1, 1, 1, 1, 1, 1, 1, 1, 1,
  1, 1, 1, 1, 1, 1, 1, 1, 1, 1,
  0.99, 1, 1, 1, 1, 1, 1, 1, 1, 1,
  1, 1, 1, 1, 1, 1, 1, 1, 1, 1, 1];

const leftPanels = [
  [fluxFeII1608, fitFeII1608], [fluxFeII2249, fitFeII2249], [fluxFeII2344, fitFeII2344],
  [fluxFeII2382, fitFeII2382], [fluxFeII2600, fitFeII2600], [fluxMgI2852, fitMgI2852],
  [fluxMgII2803, fitMgII2803], [fluxSiII1808, fitSiII1808], [fluxNiII1741, fitNiII1741],
  [fluxZnII2026, fitZnII2026], [fluxMnII2576, fitMnII2576], [fluxMnII2606, fitMnII2606],
  [fluxCrII2056, fitCrII2056], [fluxCrII2066, fitCrII2066], [fluxAlIII1862, fitAlIII1862],
  [fluxCIV1550, fitCIV1550]];
const rightPanels = [
  [fluxFeII1611, fitFeII1611], [fluxFeII2260, fitFeII2260], [fluxFeII2374, fitFeII2374],
  [fluxFeII2586, fitFeII2586], [fluxMgI2026, fitMgI2026], [fluxMgII2796, fitMgII2796],
  [fluxSiII1526, fitSiII1526], [fluxNiII1709, fitNiII1709], [fluxNiII1751, fitNiII1751],
  [fluxZnII2062, fitZnII2062], [fluxMnII2594, fitMnII2594], [fluxCrII2026, fitCrII2026],
  [fluxCrII2062, fitCrII2062], [fluxAlIII1854, fitAlIII1854], [fluxCIV1548, fitCIV1548],
  [fluxTiII3384, fitTiII3384]];

// ---- page geometry (pixels) ----
const W = 474, H = 1128;
const COLUMN_X = [[53.7, 239.5], [268.5, 455]];
const TOP = 2.5, PANEL_H = 67.86;
const SERIF = '"Liberation Serif", "Times New Roman", Times, serif';

const traces = [];
const shapes = [];
const annotations = [];
const layout = {
  width: W, height: H,
  margin: { l: 0, r: 0, t: 0, b: 0 },
  paper_bgcolor: '#fff', plot_bgcolor: '#fff',
  showlegend: false,
  font: { family: SERIF, color: '#000' },
};

let n = 0;
[leftPanels, rightPanels].forEach((column, c) => {
  const labels = c === 0 ? leftLabels : rightLabels;
  column.forEach(([flux, fit], r) => {
    if (flux.length !== velocity.length) throw new Error(labels[r] + ' flux has ' + flux.length);
    if (fit.length !== fitVelocity.length) throw new Error(labels[r] + ' fit has ' + fit.length);
    n++;
    const xRef = n === 1 ? 'x' : 'x' + n;
    const yRef = n === 1 ? 'y' : 'y' + n;
    const top = TOP + r * PANEL_H;

    layout[n === 1 ? 'xaxis' : 'xaxis' + n] = {
      domain: [COLUMN_X[c][0] / W, COLUMN_X[c][1] / W],
      anchor: yRef,
      range: [-400, 400],
      showgrid: false, zeroline: false,
      showline: true, mirror: 'ticks', linecolor: '#000', linewidth: 1,
      ticks: 'inside', ticklen: 5, tickcolor: '#000', tickwidth: 1,
      tickmode: 'array', tickvals: velocityTicks, ticktext: velocityTickText,
      minor: { tickmode: 'linear', tick0: 0, dtick: 50, ticks: 'inside', ticklen: 3, tickcolor: '#000' },
      showticklabels: r === column.length - 1,
      tickfont: { family: SERIF, size: 11, color: '#000' },
    };
    layout[n === 1 ? 'yaxis' : 'yaxis' + n] = {
      domain: [1 - (top + PANEL_H) / H, 1 - top / H],
      anchor: xRef,
      range: [-0.09, 1.199],
      showgrid: false, zeroline: false,
      showline: true, mirror: 'ticks', linecolor: '#000', linewidth: 1,
      ticks: 'inside', ticklen: 5, tickcolor: '#000', tickwidth: 1,
      tick0: 0, dtick: 0.2, tickformat: '.1f',
      minor: { tick0: 0, dtick: 0.05, ticks: 'inside', ticklen: 3, tickcolor: '#000' },
      showticklabels: c === 0,
      ticklabelstandoff: 2,
      tickfont: { family: SERIF, size: 11, color: '#000' },
    };

    // continuum level, under the fit
    shapes.push({
      type: 'line', layer: 'below', xref: xRef, yref: yRef,
      x0: -400, x1: 400, y0: 1, y1: 1,
      line: { color: '#e82020', width: 1, dash: '6px,2px,2px,2px' },
    });

    traces.push({
      x: velocity, y: flux, xaxis: xRef, yaxis: yRef,
      type: 'scatter', mode: 'lines',
      line: { color: '#1a1a1a', width: 1, shape: 'hvh' },
      hoverinfo: 'skip',
    });
    traces.push({
      x: fitVelocity, y: fit, xaxis: xRef, yaxis: yRef,
      type: 'scatter', mode: 'lines',
      line: { color: '#19e619', width: 1.5, shape: 'spline', smoothing: 0.8 },
      hoverinfo: 'skip',
    });

    // systemic velocity and the fitted components
    shapes.push({
      type: 'line', layer: 'above', xref: xRef, yref: yRef + ' domain',
      x0: 0, x1: 0, y0: 0, y1: 1,
      line: { color: '#ff7a7a', width: 2, dash: '8px,4px' },
    });
    componentVelocities.forEach(v => {
      shapes.push({
        type: 'line', layer: 'above', xref: xRef, yref: yRef + ' domain',
        x0: v, x1: v, y0: 0, y1: 1,
        line: { color: '#000', width: 1, dash: '1px,2px' },
      });
    });

    annotations.push({
      xref: xRef, yref: yRef, x: -355, y: 0.16,
      xanchor: 'left', yanchor: 'middle', showarrow: false,
      text: labels[r], font: { family: SERIF, size: 12.5, color: '#000' },
    });
  });
});

annotations.push({
  xref: 'paper', yref: 'paper', x: 11 / W, y: 1 - 551 / H,
  xanchor: 'center', yanchor: 'middle', showarrow: false, textangle: -90,
  text: 'Normalized Flux Density', font: { family: SERIF, size: 17, color: '#000' },
});
annotations.push({
  xref: 'paper', yref: 'paper', x: 254.5 / W, y: 1 - 1115 / H,
  xanchor: 'center', yanchor: 'middle', showarrow: false,
  text: 'Relative Velocity (km s<sup>-1</sup>)', font: { family: SERIF, size: 12.5, color: '#000' },
});

layout.shapes = shapes;
layout.annotations = annotations;

Plotly.newPlot('chart', traces, layout, { displayModeBar: false, staticPlot: true });
</script>
</body>
</html>
